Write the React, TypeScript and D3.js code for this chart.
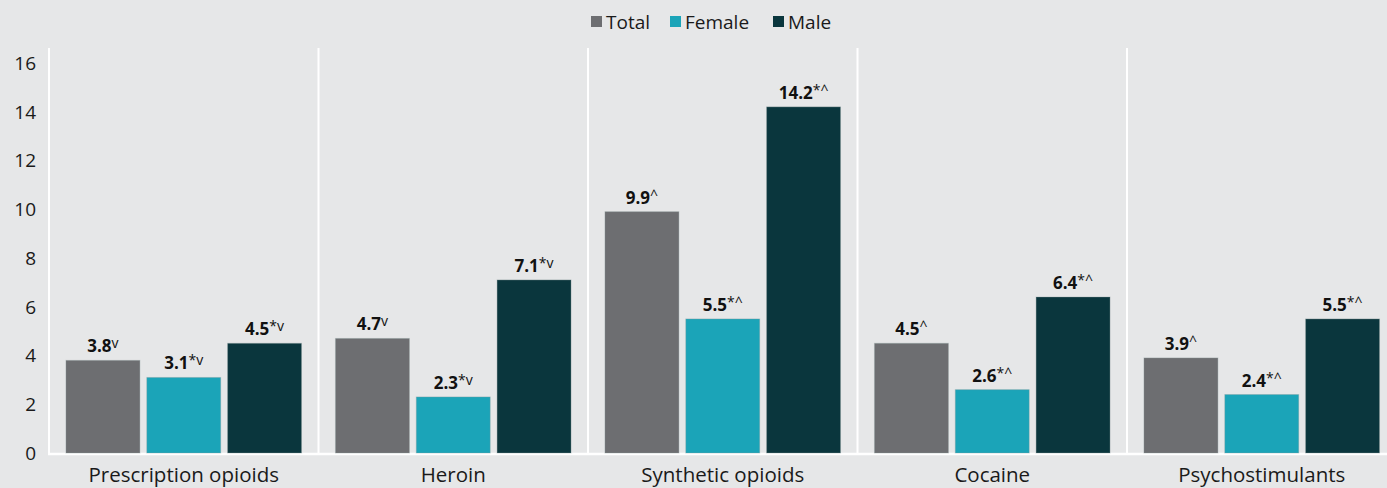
import React from "react";
import * as d3 from "d3";

const categories = ["Prescription opioids", "Heroin", "Synthetic opioids", "Cocaine", "Psychostimulants"];
const seriesNames = ["Total", "Female", "Male"];
const totalValues = [3.8, 4.7, 9.9, 4.5, 3.9];
const femaleValues = [3.1, 2.3, 5.5, 2.6, 2.4];
const maleValues = [4.5, 7.1, 14.2, 6.4, 5.5];
const totalMarks = ["v", "v", "^", "^", "^"];
const femaleMarks = ["*v", "*v", "*^", "*^", "*^"];
const maleMarks = ["*v", "*v", "*^", "*^", "*^"];
const yTicks = [0, 2, 4, 6, 8, 10, 12, 14, 16];

const colors: Record<string, string> = { Total: "#6d6e71", Female: "#1ba4b8", Male: "#0a363d" };
const W = 1387, H = 488;
const FONT = "'Open Sans', 'Noto Sans', sans-serif";

export default function App() {
  const x0 = d3.scaleBand<string>().domain(categories).range([49, 49 + 5 * 269.5]).padding(0);
  const x1 = d3.scaleBand<string>().domain(seriesNames).range([0, x0.bandwidth()]).paddingInner(0.085).paddingOuter(0.21);
  const y = d3.scaleLinear().domain([0, 16]).range([453, 63]);
  const seriesVals: Record<string, number[]> = { Total: totalValues, Female: femaleValues, Male: maleValues };
  const seriesMarks: Record<string, string[]> = { Total: totalMarks, Female: femaleMarks, Male: maleMarks };

  const legendItems = [
    { name: "Total", x: 591 },
    { name: "Female", x: 670 },
    { name: "Male", x: 773 },
  ];

  return (
    <div style={{ position: "fixed", left: 0, top: 0 }}>
      <svg width={W} height={H} style={{ display: "block", background: "#e6e7e8" }} fontFamily={FONT}>
        <rect x={0} y={0} width={W} height={H} fill="#e6e7e8" />
        {legendItems.map((l) => (
          <g key={l.name}>
            <rect x={l.x} y={16} width={11} height={11} fill={colors[l.name]} />
            <text x={l.x + 15} y={28.5} fontSize={19} fill="#1a1a1a">{l.name}</text>
          </g>
        ))}
        {categories.slice(1).map((c) => (
          <line key={c} x1={x0(c)!} x2={x0(c)!} y1={48} y2={453} stroke="#ffffff" strokeWidth={2} />
        ))}
        <line x1={49} x2={49} y1={48} y2={454} stroke="#ffffff" strokeWidth={2} />
        <line x1={48} x2={W} y1={454} y2={454} stroke="#ffffff" strokeWidth={2.5} />
        {yTicks.map((t) => (
          <text key={t} x={36} y={y(t)} dy="0.36em" textAnchor="end" fontSize={19} fill="#1a1a1a">{t}</text>
        ))}
        {categories.map((c, i) => (
          <g key={c} transform={`translate(${x0(c)},0)`}>
            {seriesNames.map((s) => {
              const v = seriesVals[s][i];
              const bx = x1(s)!;
              const bw = x1.bandwidth();
              return (
                <g key={s}>
                  <rect x={bx} y={y(v)} width={bw} height={y(0) - y(v)} fill={colors[s]} stroke="#8a9a9c" strokeOpacity={0.35} strokeWidth={1} />
                  <text x={bx + bw / 2} y={y(v) - 8} textAnchor="middle" fill="#111">
                    <tspan fontSize={17} fontWeight="bold">{v.toFixed(1)}</tspan>
                    <tspan fontSize={14} dy={-4}>{seriesMarks[s][i]}</tspan>
                  </text>
                </g>
              );
            })}
            <text x={x0.bandwidth() / 2} y={482} textAnchor="middle" fontSize={20.5} fill="#1a1a1a">{c}</text>
          </g>
        ))}
      </svg>
    </div>
  );
}
